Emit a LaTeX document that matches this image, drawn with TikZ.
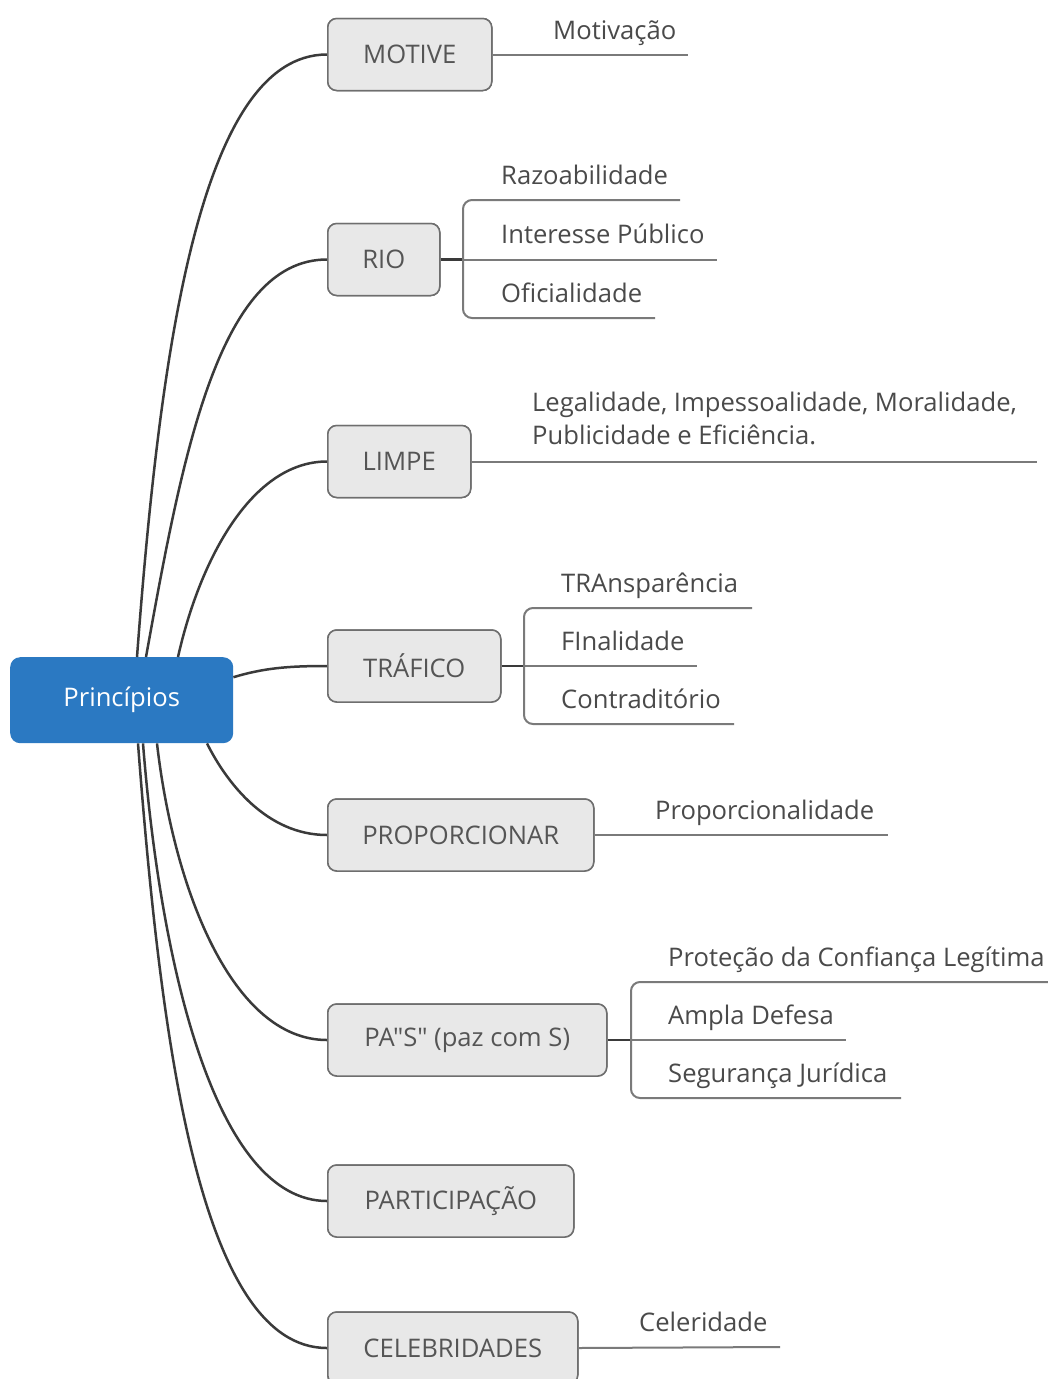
\documentclass[tikz,border=0pt]{standalone}
\usepackage{fontspec}
\setmainfont{Open Sans}[Ligatures=TeXOff]
\definecolor{rootblue}{HTML}{2B79C2}
\definecolor{boxfill}{HTML}{E8E8E8}
\definecolor{boxline}{HTML}{6E6E6E}
\definecolor{boxtext}{HTML}{555555}
\definecolor{leafc}{HTML}{4A4A4A}
\definecolor{rootlinec}{HTML}{3A3A3A}
\definecolor{sublinec}{HTML}{7A7A7A}
\begin{document}
\begin{tikzpicture}[x=1pt,y=-1pt,
  rootbox/.style={fill=rootblue, rounded corners=10pt, text=white, font=\fontsize{25.6}{30}\selectfont, inner sep=0pt},
  topicbox/.style={draw=boxline, line width=1.5pt, fill=boxfill, rounded corners=9pt, text=boxtext, font=\fontsize{25.6}{30}\selectfont, minimum height=72pt, inner sep=0pt, anchor=west},
  leaftext/.style={text=leafc, font=\fontsize{25.6}{30}\selectfont, inner sep=0pt, anchor=base west},
  rootline/.style={draw=rootlinec, line width=2.5pt},
  subline/.style={draw=sublinec, line width=2pt},
  joinline/.style={draw=rootlinec, line width=2.5pt},
  bracket/.style={draw=sublinec, line width=2pt, rounded corners=9pt},
]
\useasboundingbox[fill=white] (0,0) rectangle (1048,1379);

% root
\node[rootbox, minimum width=223pt, minimum height=86pt, anchor=north west] (root) at (10,657) {\raisebox{-3pt}{Princípios}};

% main topics (named, for the connectors)
\path
  node[topicbox, minimum width=164pt] (motive) at (327,54.5) {MOTIVE}
  node[topicbox, minimum width=112pt] (rio) at (327,259.5) {RIO}
  node[topicbox, minimum width=143pt] (limpe) at (327,461.5) {LIMPE}
  node[topicbox, minimum width=173pt] (trafico) at (327,666) {TRÁFICO}
  node[topicbox, minimum width=266pt] (prop) at (327,835) {PROPORCIONAR}
  node[topicbox, minimum width=279pt] (pas) at (327,1040) {PA"S" (paz com S)}
  node[topicbox, minimum width=246pt] (part) at (327,1201) {PARTICIPAÇÃO}
  node[topicbox, minimum width=250pt] (celeb) at (327,1348) {CELEBRIDADES};

% curved connectors from root
\draw[rootline] ([xshift=127pt]root.north west) .. controls +(23,-307) and +(-127,0) .. (motive.west);
\draw[rootline] ([xshift=136pt]root.north west) .. controls +(36,-199) and +(-109,0) .. (rio.west);
\draw[rootline] ([xshift=168pt]root.north west) .. controls +(22,-98) and +(-75,0) .. (limpe.west);
\draw[rootline] ([yshift=23pt]root.east) .. controls +(30,-9) and +(-40,0) .. (trafico.west);
\draw[rootline] ([xshift=197pt]root.south west) .. controls +(20,40) and +(-60,0) .. (prop.west);
\draw[rootline] ([xshift=147pt]root.south west) .. controls +(17,148) and +(-94,0) .. (pas.west);
\draw[rootline] ([xshift=133pt]root.south west) .. controls +(18,228) and +(-110,0) .. (part.west);
\draw[rootline] ([xshift=128pt]root.south west) .. controls +(23,301) and +(-127,0) .. (celeb.west);

% boxes again, on top of the curve ends
\node[topicbox, minimum width=164pt] at (327,54.5) {MOTIVE};
\node[topicbox, minimum width=112pt] at (327,259.5) {RIO};
\node[topicbox, minimum width=143pt] at (327,461.5) {LIMPE};
\node[topicbox, minimum width=173pt] at (327,666) {TRÁFICO};
\node[topicbox, minimum width=266pt] at (327,835) {PROPORCIONAR};
\node[topicbox, minimum width=279pt] at (327,1040) {PA"S" (paz com S)};
\node[topicbox, minimum width=246pt] at (327,1201) {PARTICIPAÇÃO};
\node[topicbox, minimum width=250pt] at (327,1348) {CELEBRIDADES};

% MOTIVE
\coordinate (u-motiv) at (688,54.5);
\draw[subline] (motive.east) -- (u-motiv);
\node[leaftext] (l-motiv) at (553,39) {Motivação};

% RIO
\coordinate (rio-br) at (463,259.5);
\coordinate (u-razo) at (680,200);
\coordinate (u-inter) at (717,259.5);
\coordinate (u-ofic) at (655,318);
\draw[joinline] (rio.east) -- (rio-br);
\draw[bracket] (u-razo) -- (463,200) -- (463,318) -- (u-ofic);
\draw[subline] (rio-br) -- (u-inter);
\node[leaftext] (l-razo) at (501,184) {Razoabilidade};
\node[leaftext] (l-inter) at (501,243) {Interesse Público};
\node[leaftext] (l-ofic) at (501,302) {Oficialidade};

% LIMPE
\coordinate (u-limpe) at (1037,461.5);
\draw[subline] (limpe.east) -- (u-limpe);
\node[leaftext] (l-limpe1) at (532,411) {Legalidade, Impessoalidade, Moralidade,};
\node[leaftext] (l-limpe2) at (532,444) {Publicidade e Eficiência.};

% TRAFICO
\coordinate (traf-br) at (524,666);
\coordinate (u-trans) at (752,608);
\coordinate (u-final) at (697,666);
\coordinate (u-contra) at (734,724);
\draw[joinline] (trafico.east) -- (traf-br);
\draw[bracket] (u-trans) -- (524,608) -- (524,724) -- (u-contra);
\draw[subline] (traf-br) -- (u-final);
\node[leaftext] (l-trans) at (561,592) {TRAnsparência};
\node[leaftext] (l-final) at (561,650) {FInalidade};
\node[leaftext] (l-contra) at (561,708) {Contraditório};

% PROPORCIONAR
\coordinate (u-prop) at (888,835);
\draw[subline] (prop.east) -- (u-prop);
\node[leaftext] (l-prop) at (655,819) {Proporcionalidade};

% PA"S"
\coordinate (pas-br) at (631,1040);
\coordinate (u-prot) at (1050,982);
\coordinate (u-ampla) at (846,1040);
\coordinate (u-seg) at (901,1098);
\draw[joinline] (pas.east) -- (pas-br);
\draw[bracket] (u-prot) -- (631,982) -- (631,1098) -- (u-seg);
\draw[subline] (pas-br) -- (u-ampla);
\node[leaftext] (l-prot) at (668,966) {Proteção da Confiança Legítima};
\node[leaftext] (l-ampla) at (668,1024) {Ampla Defesa};
\node[leaftext] (l-seg) at (668,1082) {Segurança Jurídica};

% CELEBRIDADES
\coordinate (u-celer) at (780,1347);
\draw[subline] (celeb.east) -- (u-celer);
\node[leaftext] (l-celer) at (639,1331) {Celeridade};
\end{tikzpicture}
\end{document}
